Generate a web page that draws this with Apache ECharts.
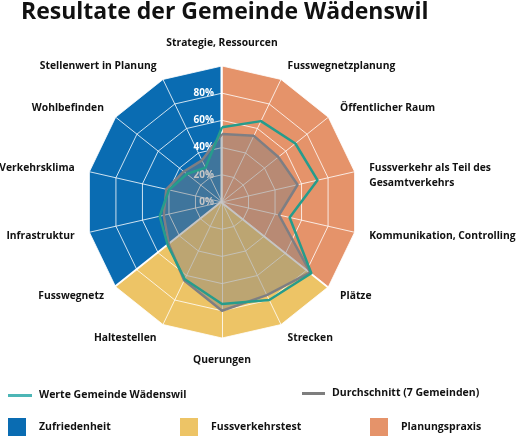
<!DOCTYPE html>
<html>
<head>
<meta charset="utf-8">
<script src="https://cdn.jsdelivr.net/npm/echarts@6/dist/echarts.min.js"></script>
<style>
  html, body { margin: 0; padding: 0; background: #fff; }
  #chart { width: 518px; height: 436px; }
</style>
</head>
<body>
<div id="chart"></div>
<script>
// Achsen (im Uhrzeigersinn ab oben)
const indicators = [
  'Strategie, Ressourcen',
  'Fusswegnetzplanung',
  'Öffentlicher Raum',
  'Fussverkehr als Teil des\nGesamtverkehrs',
  'Kommunikation, Controlling',
  'Plätze',
  'Strecken',
  'Querungen',
  'Haltestellen',
  'Fusswegnetz',
  'Infrastruktur',
  'Verkehrsklima',
  'Wohlbefinden',
  'Stellenwert in Planung'
]

// Werte in %
const waedenswil = [55, 66, 69, 72, 51, 84, 80, 75, 63, 51, 47, 40, 33, 28]
const durchschnitt = [50, 54, 53, 57, 43, 83, 76, 80, 64, 50, 44, 42, 36, 34]

// Bereiche im Hintergrund: Name, Farbe, Achsen (Rand inklusive)
const groupNames = ['Zufriedenheit', 'Fussverkehrstest', 'Planungspraxis']
const groupColors = ['#0a6cb2', '#edc466', '#e5936a']
const groupAxes = [
  [9, 10, 11, 12, 13, 0],
  [5, 6, 7, 8, 9],
  [0, 1, 2, 3, 4, 5]
]

const tickLabels = ['0%', '20%', '40%', '60%', '80%', '']

const FONT = 'Open Sans'

// ECharts zeichnet Radar gegen den Uhrzeigersinn -> Reihenfolge umdrehen
const order = indicators.map((_, i) => (indicators.length - i) % indicators.length)
const reorder = (arr) => order.map(i => arr[i])

const chart = echarts.init(document.getElementById('chart'))

// Keil je Bereich: 100 auf den Achsen des Bereichs, sonst 0
const wedgeSeries = groupNames.map((name, g) => ({
  name: name,
  type: 'radar',
  z: 1,
  silent: true,
  symbol: 'none',
  color: groupColors[g],
  lineStyle: { color: '#fff', width: 3 },
  areaStyle: { color: groupColors[g], opacity: 1 },
  data: [{ value: reorder(indicators.map((_, i) => groupAxes[g].includes(i) ? 100 : 0)) }]
}))

const legendText = (padLeft) => ({
  fontFamily: FONT, fontWeight: 'bold', fontSize: 10.5, color: '#111', padding: [0, 0, 0, padLeft]
})

chart.setOption({
  animation: false,
  title: {
    text: 'Resultate der Gemeinde Wädenswil',
    left: 16,
    top: -4,
    textStyle: { fontFamily: FONT, fontWeight: 'bold', fontSize: 23, color: '#111' }
  },
  legend: [
    { data: ['Werte Gemeinde Wädenswil'], left: 8, top: 390, itemWidth: 24, itemHeight: 3,
      itemStyle: { color: '#4db6b6' }, textStyle: legendText(2) },
    { data: ['Durchschnitt (7 Gemeinden)'], left: 302, top: 388, itemWidth: 23, itemHeight: 3,
      itemStyle: { color: '#7e7e7e' }, textStyle: legendText(2) },
    { data: ['Zufriedenheit'], left: 8, top: 418, itemWidth: 18, itemHeight: 19, textStyle: legendText(8) },
    { data: ['Fussverkehrstest'], left: 180, top: 418, itemWidth: 18, itemHeight: 19, textStyle: legendText(8) },
    { data: ['Planungspraxis'], left: 370, top: 418, itemWidth: 18, itemHeight: 19, textStyle: legendText(8) }
  ].map(l => Object.assign({ selectedMode: false, icon: 'rect', padding: 0, itemGap: 10 }, l)),
  radar: {
    center: [222, 202],
    radius: 136,
    startAngle: 90,
    splitNumber: 5,
    z: 3,
    shape: 'polygon',
    indicator: reorder(indicators).map((name, i) => {
      // zweizeiliger Titel: erste Zeile auf Höhe der Achse (leere Zeile darüber)
      const ind = { name: name.indexOf('\n') >= 0 ? '\u00a0\n' + name : name, min: 0, max: 100 }
      if (i === 0) {
        ind.axisLabel = {
          show: true,
          color: '#fff',
          fontFamily: FONT,
          fontWeight: 'bold',
          fontSize: 10,
          formatter: (v) => tickLabels[Math.round(v / 20)]
        }
      }
      return ind
    }),
    axisName: { color: '#111', fontFamily: FONT, fontWeight: 'bold', fontSize: 10.3, lineHeight: 15 },
    nameGap: 15,
    axisLine: { lineStyle: { color: 'rgba(255,255,255,0.8)', width: 1 } },
    splitLine: { lineStyle: { color: 'rgba(255,255,255,0.8)', width: 1 } },
    splitArea: { show: false },
    axisLabel: { show: false }
  },
  series: wedgeSeries.concat([
    {
      name: 'Durchschnitt (7 Gemeinden)',
      type: 'radar',
      z: 4,
      symbol: 'none',
      color: '#7e7e7e',
      lineStyle: { color: '#7e7e84', width: 2.5 },
      areaStyle: { color: '#808080', opacity: 0.45 },
      data: [{ value: reorder(durchschnitt) }]
    },
    {
      name: 'Werte Gemeinde Wädenswil',
      type: 'radar',
      z: 5,
      symbol: 'none',
      color: '#2a9d8f',
      lineStyle: { color: '#269c8c', width: 2.5 },
      data: [{ value: reorder(waedenswil) }]
    }
  ])
})
</script>
</body>
</html>
